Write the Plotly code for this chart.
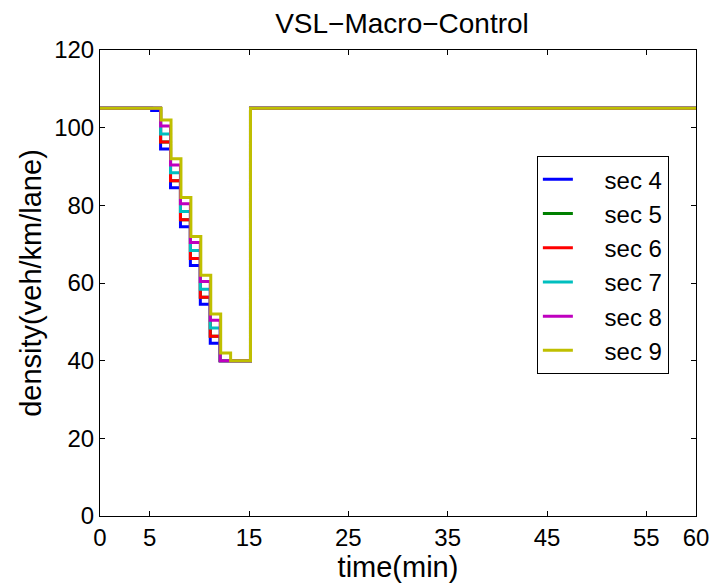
import plotly.graph_objects as go

# step change times (min) and densities per section
sec_names = ["sec 4", "sec 5", "sec 6", "sec 7", "sec 8", "sec 9"]
colors = ["#0000FF", "#008000", "#FF0000", "#00BFBF", "#BF00BF", "#BFBF00"]

t_sec4 = [0, 5.2, 6.1, 7.1, 8.1, 9.1, 10.1, 11.1, 12.1, 15.15, 60]
d_sec4 = [105, 104.4, 94.5, 84.5, 74.5, 64.5, 54.5, 44.5, 40, 105, 105]

t_sec5 = [0, 6.1, 7.1, 8.1, 9.1, 10.1, 11.1, 12.1, 15.15, 60]
d_sec5 = [105, 96.3, 86.3, 76.3, 66.3, 56.3, 46.3, 40, 105, 105]

t_sec6 = [0, 6.1, 7.1, 8.1, 9.1, 10.1, 11.1, 12.1, 15.15, 60]
d_sec6 = [105, 96.3, 86.3, 76.3, 66.3, 56.3, 46.3, 40, 105, 105]

t_sec7 = [0, 6.1, 7.1, 8.1, 9.1, 10.1, 11.1, 12.1, 15.15, 60]
d_sec7 = [105, 98.4, 88.4, 78.4, 68.4, 58.4, 48.4, 40, 105, 105]

t_sec8 = [0, 6.1, 7.1, 8.1, 9.1, 10.1, 11.1, 12.1, 15.15, 60]
d_sec8 = [105, 100.4, 90.4, 80.4, 70.4, 60.4, 50.4, 40, 105, 105]

t_sec9 = [0, 6.15, 7.15, 8.15, 9.15, 10.15, 11.15, 12.15, 13.15, 15.15, 60]
d_sec9 = [105, 102, 92, 82, 72, 62, 52, 42, 40, 105, 105]

x_ticks = [0, 5, 15, 25, 35, 45, 55, 60]
y_ticks = [0, 20, 40, 60, 80, 100, 120]

series = [(t_sec4, d_sec4), (t_sec5, d_sec5), (t_sec6, d_sec6),
          (t_sec7, d_sec7), (t_sec8, d_sec8), (t_sec9, d_sec9)]

font_family = "Liberation Sans, Arial, Helvetica, sans-serif"
pad = "\u00a0" * 4

fig = go.Figure()
for i, ((t, d), name, c) in enumerate(zip(series, sec_names, colors)):
    fig.add_trace(go.Scatter(
        x=t, y=d, mode="lines", name=pad + name, line=dict(color=c, width=3, shape="hv"),
    ))

axis_common = dict(
    showgrid=False, zeroline=False, showline=True, linecolor="black", linewidth=1,
    mirror="ticks", ticks="inside", ticklen=5, tickcolor="black",
    tickfont=dict(size=24, color="black", family=font_family),
)

# page has an 8px body margin, so figure is 8px smaller and margins shifted
W, H = 713, 577
fig.update_layout(
    width=W, height=H,
    margin=dict(l=92, r=18, t=42, b=69),
    paper_bgcolor="white", plot_bgcolor="white",
    font=dict(family=font_family, color="black", size=24),
    title=dict(text="VSL\u2212Macro\u2212Control", x=394 / W, xanchor="center",
               y=1 - 15 / H, yanchor="middle", font=dict(size=28)),
    xaxis=dict(range=[0, 60], tickvals=x_ticks, ticktext=[str(v) for v in x_ticks],
               title=dict(text="time(min)", font=dict(size=29), standoff=0), **axis_common),
    yaxis=dict(range=[0, 120], tickvals=y_ticks, ticktext=[str(v) for v in y_ticks],
               title=dict(text="density(veh/km/lane)", font=dict(size=29), standoff=4), **axis_common),
    legend=dict(x=0.733, y=0.772, xanchor="left", yanchor="top",
                bordercolor="black", borderwidth=1, bgcolor="white",
                font=dict(size=24)),
    showlegend=True,
)

fig.write_html("out.html")
